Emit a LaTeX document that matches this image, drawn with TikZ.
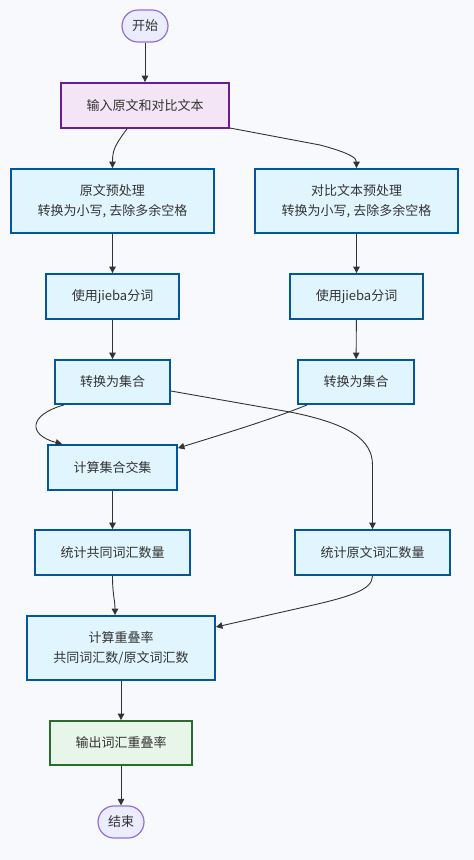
\documentclass[tikz,border=0pt]{standalone}
\usepackage{fontspec}
\setmainfont{Noto Sans CJK SC}
\usetikzlibrary{arrows.meta}
\definecolor{bgc}{HTML}{F8F9FC}
\definecolor{boxfill}{HTML}{E1F5FE}
\definecolor{boxline}{HTML}{01579B}
\definecolor{infill}{HTML}{F3E5F5}
\definecolor{inline}{HTML}{6A1B9A}
\definecolor{outfill}{HTML}{E8F5E9}
\definecolor{outline}{HTML}{2E6B30}
\definecolor{termfill}{HTML}{ECECFF}
\definecolor{termline}{HTML}{9370DB}
\definecolor{txt}{HTML}{333333}
\definecolor{edge}{HTML}{333333}
\begin{document}
\begin{tikzpicture}[x=1pt,y=-1pt,
  base/.style={align=center,inner sep=0pt,text=txt,font=\fontsize{13}{19.5}\selectfont},
  procbox/.style={base,draw=boxline,fill=boxfill,line width=1.8pt},
  inbox/.style={base,draw=inline,fill=infill,line width=1.8pt},
  outbox/.style={base,draw=outline,fill=outfill,line width=1.8pt},
  term/.style={base,draw=termline,fill=termfill,line width=1.2pt,rounded corners=16pt,minimum width=46pt,minimum height=32pt},
  conn/.style={draw=edge,line width=0.9pt,-{Triangle[length=6.5pt,width=6.5pt]}}
]
\useasboundingbox (0,0) rectangle (474,860);
\fill[bgc] (0,0) rectangle (474,860);

\node[term] (start) at (145,26) {开始};
\node[inbox,minimum width=168pt,minimum height=45pt] (input) at (145,105.5) {输入原文和对比文本};
\node[procbox,minimum width=203pt,minimum height=64pt] (a1) at (112.5,201) {原文预处理\\转换为小写, 去除多余空格};
\node[procbox,minimum width=203pt,minimum height=64pt] (b1) at (356.5,201) {对比文本预处理\\转换为小写, 去除多余空格};
\node[procbox,minimum width=133pt,minimum height=45pt] (a2) at (112.5,296.5) {使用jieba分词};
\node[procbox,minimum width=133pt,minimum height=45pt] (b2) at (356.5,296.5) {使用jieba分词};
\node[procbox,minimum width=115pt,minimum height=44pt] (a3) at (112.5,382) {转换为集合};
\node[procbox,minimum width=116pt,minimum height=44pt] (b3) at (356,382) {转换为集合};
\node[procbox,minimum width=129pt,minimum height=45pt] (inter) at (112.5,467.5) {计算集合交集};
\node[procbox,minimum width=155pt,minimum height=45pt] (c1) at (112.5,552.5) {统计共同词汇数量};
\node[procbox,minimum width=155pt,minimum height=45pt] (c2) at (372.5,552.5) {统计原文词汇数量};
\node[procbox,minimum width=188pt,minimum height=64pt] (rate) at (121,648) {计算重叠率\\共同词汇数/原文词汇数};
\node[outbox,minimum width=142pt,minimum height=44pt] (out) at (121,743) {输出词汇重叠率};
\node[term] (end) at (121,822) {结束};

\draw[conn] (start) -- (input);
\draw[conn] ([xshift=-18pt]input.south) .. controls (115,145) and (112.5,150) .. (a1.north);
\draw[conn] ([yshift=-5pt]input.east |- 0,123) -- (320,145) .. controls (350,153) and (356.5,158) .. (b1.north);
\draw[conn] (a1) -- (a2);
\draw[conn] (b1) -- (b2);
\draw[conn] (a2) -- (a3);
\draw[conn] (b2) -- (b3);
\draw[conn] ([xshift=10pt]a3.south west) .. controls (28,415) and (28,435) .. ([xshift=15pt]inter.north west);
\draw[conn] ([xshift=10pt]b3.south west) .. controls (270,420) and (220,435) .. ([yshift=-4pt]inter.north east);
\draw[conn] (a3.east |- 0,391) -- (290,412) .. controls (350,424) and (372.5,440) .. (372.5,465) -- (c2.north);
\draw[conn] (inter) -- (c1);
\draw[conn] (c1.south) .. controls (112.5,595) and (115,600) .. (rate.north -| 115,0);
\draw[conn] (c2.south) .. controls (372.5,590) and (350,597) .. (300,608) -- (rate.east |- 0,627);
\draw[conn] (rate) -- (out);
\draw[conn] (out) -- (end);
\end{tikzpicture}
\end{document}
